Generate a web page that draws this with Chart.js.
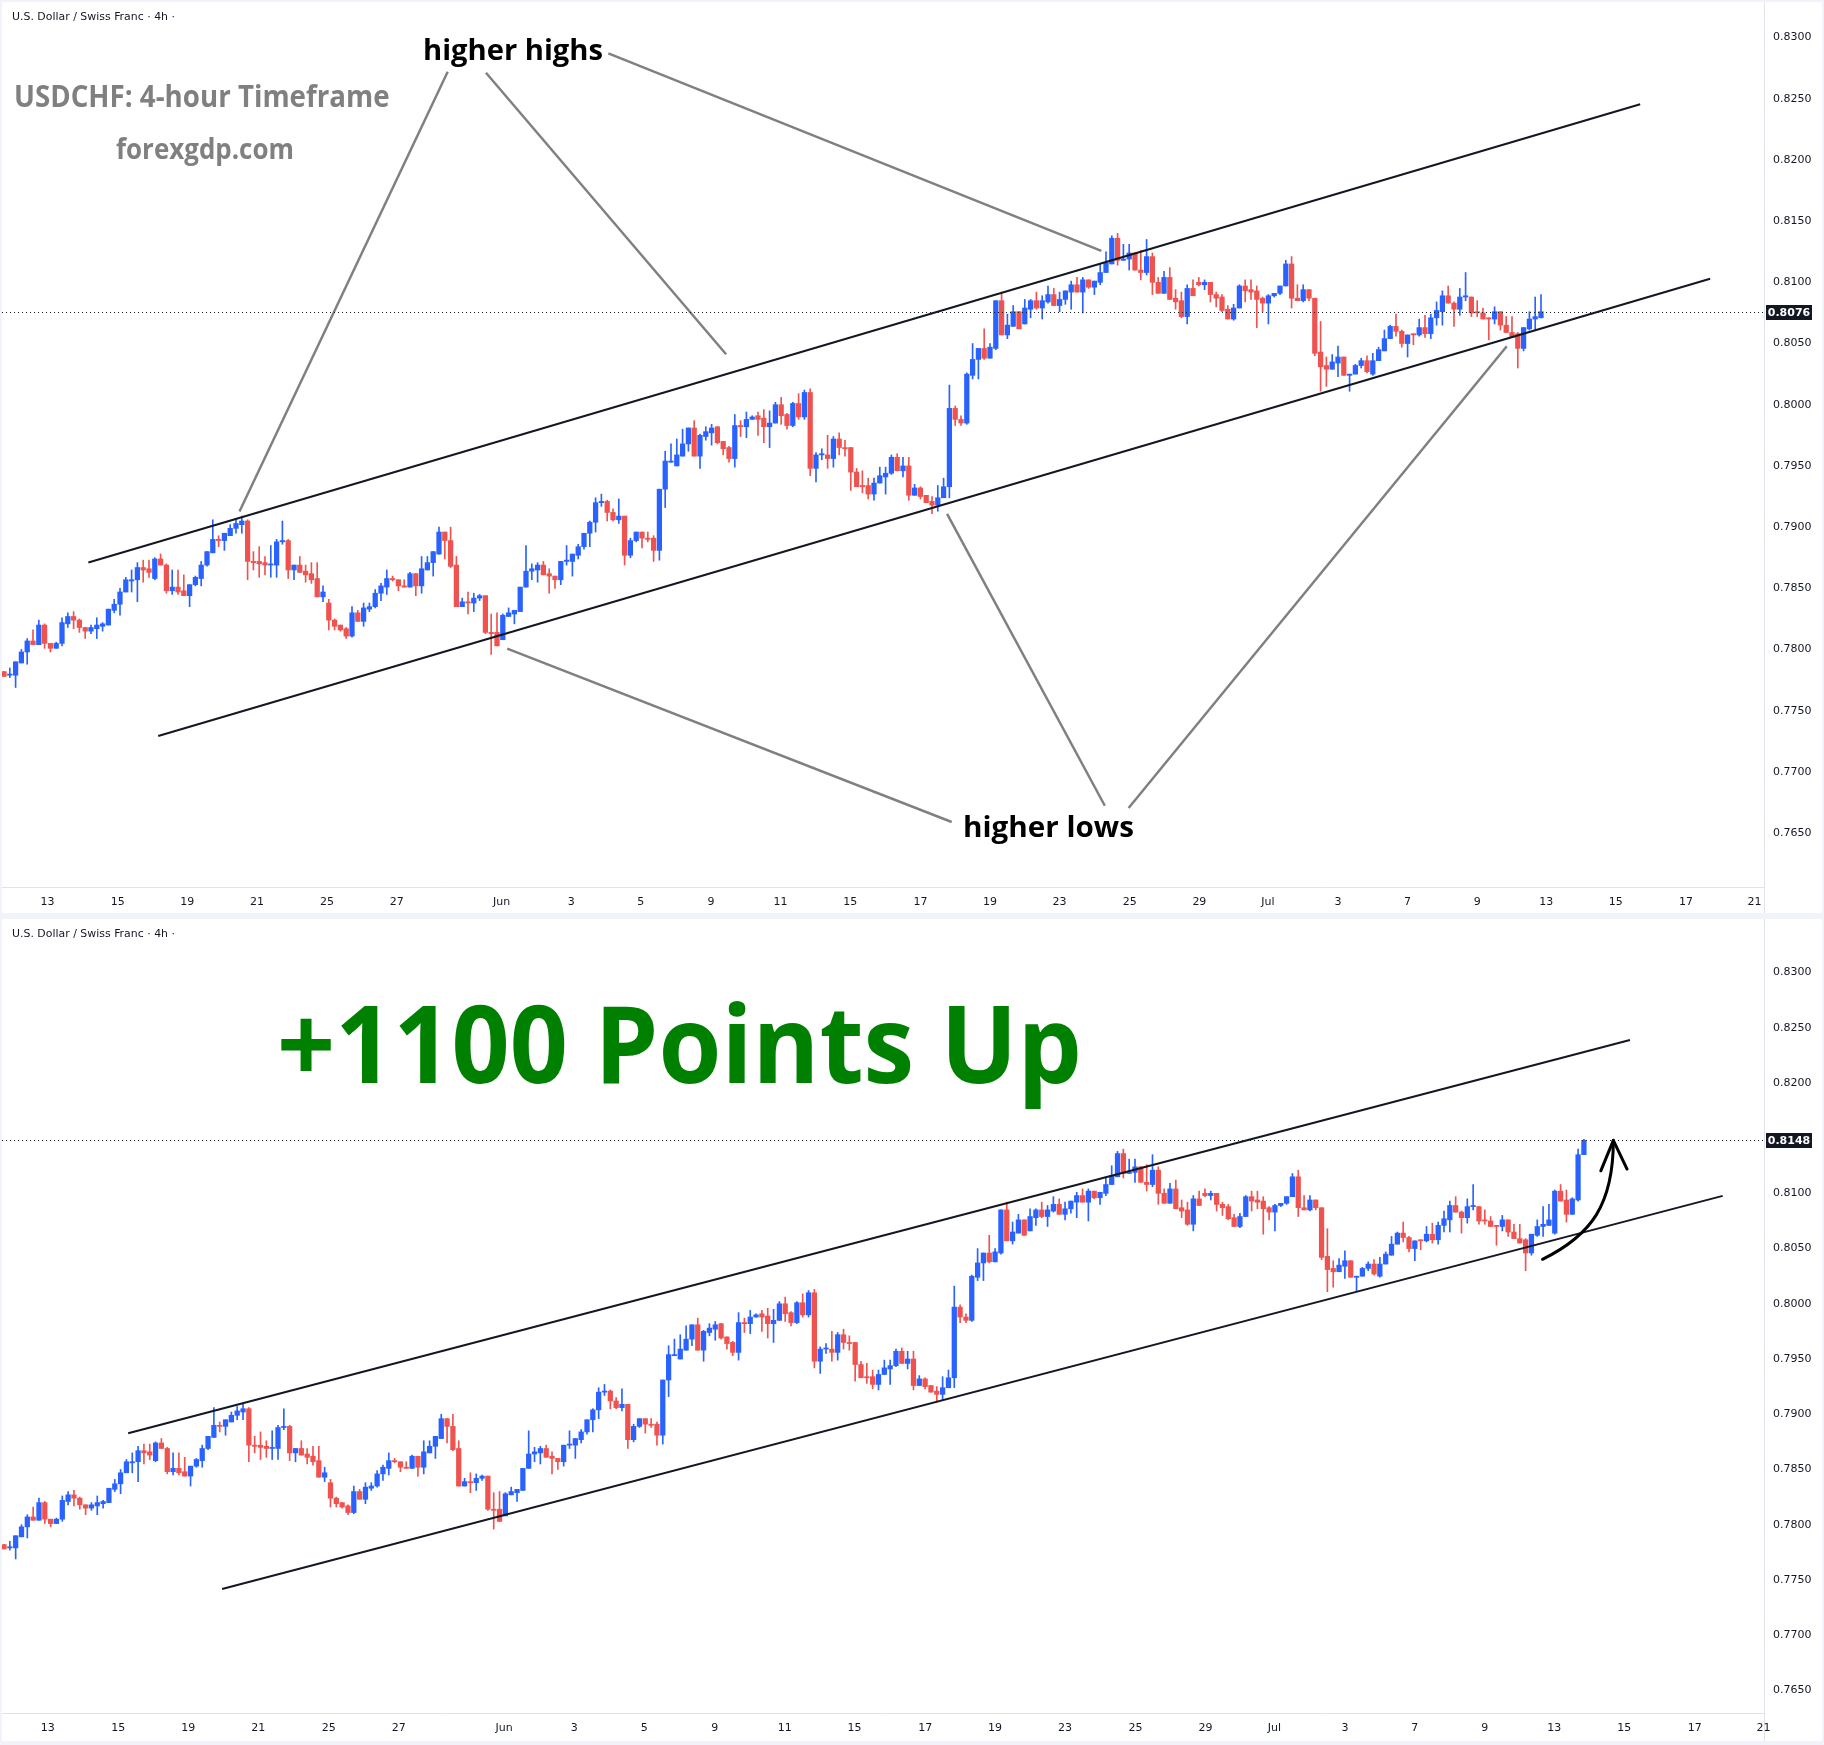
<!DOCTYPE html>
<html><head><meta charset="utf-8">
<script src="https://cdn.jsdelivr.net/npm/chart.js@4.4.1/dist/chart.umd.min.js"></script>
<style>
html,body{margin:0;padding:0;background:#f0f3fa;}
body{width:1824px;height:1745px;position:relative;overflow:hidden;}
.panel{position:absolute;background:#fff;}
#p1{left:2px;top:2px;width:1820px;height:911px;}
#p2{left:2px;top:919px;width:1820px;height:822px;}
.txt{position:absolute;white-space:nowrap;line-height:1;transform-origin:0 0;z-index:5;}
.hdr{font-family:'DejaVu Sans';font-size:11px;color:#131722;}
.ann{font-family:'Open Sans';font-weight:700;}
</style></head>
<body>
<div class="panel" id="p1"><canvas id="c1"></canvas></div>
<div class="panel" id="p2"><canvas id="c2"></canvas></div>

<div class="txt hdr" data-w="163" style="left:11.6px;top:11px;">U.S. Dollar / Swiss Franc · 4h ·</div>
<div class="txt hdr" data-w="163" style="left:11.6px;top:928px;">U.S. Dollar / Swiss Franc · 4h ·</div>
<div class="txt ann" data-w="375.6" style="left:14.3px;top:81.3px;font-size:30.4px;color:#808080;">USDCHF: 4-hour Timeframe</div>
<div class="txt ann" data-w="178" style="left:116px;top:134px;font-size:28.5px;color:#808080;">forexgdp.com</div>
<div class="txt ann" data-w="180" style="left:422.5px;top:34.7px;font-size:28.5px;color:#000;">higher highs</div>
<div class="txt ann" data-w="171" style="left:963px;top:811.5px;font-size:28.5px;color:#000;">higher lows</div>
<div class="txt ann" data-w="805" style="left:277px;top:987.7px;font-size:107px;color:#008000;">+1100 Points Up</div>

<script>
// ---------------- DATA ----------------
const opens = [
.7782,.7779,.7779,.7789,.7798,.7807,.7804,.7820,.7805,.7801,
.7805,.7821,.7827,.7824,.7818,.7815,.7817,.7819,.7820,.7832,
.7837,.7847,.7856,.7857,.7867,.7866,.7858,.7874,.7869,.7848,
.7851,.7848,.7844,.7853,.7858,.7869,.7879,.7890,.7889,.7893,
.7899,.7902,.7905,.7872,.7872,.7871,.7869,.7869,.7888,.7889,
.7865,.7869,.7864,.7862,.7858,.7843,.7838,.7824,.7820,.7817,
.7811,.7830,.7823,.7833,.7835,.7846,.7851,.7858,.7857,.7852,
.7851,.7862,.7852,.7865,.7871,.7878,.7896,.7889,.7869,.7835,
.7839,.7838,.7842,.7844,.7814,.7814,.7808,.7827,.7829,.7831,
.7851,.7864,.7865,.7869,.7862,.7860,.7857,.7872,.7872,.7877,
.7884,.7895,.7904,.7920,.7921,.7912,.7906,.7909,.7877,.7889,
.7896,.7891,.7891,.7881,.7931,.7953,.7950,.7958,.7968,.7981,
.7958,.7974,.7977,.7982,.7970,.7965,.7956,.7983,.7982,.7988,
.7991,.7989,.7982,.7985,.8000,.7992,.7983,.8001,.7990,.8010,
.7948,.7959,.7959,.7956,.7972,.7965,.7965,.7945,.7934,.7934,
.7927,.7936,.7941,.7944,.7957,.7946,.7950,.7926,.7932,.7926,
.7921,.7918,.7924,.7933,.7997,.7988,.7985,.8024,.8037,.8046,
.8038,.8046,.8085,.8057,.8064,.8076,.8066,.8078,.8085,.8079,
.8084,.8090,.8081,.8086,.8092,.8098,.8092,.8102,.8096,.8100,
.8108,.8115,.8136,.8118,.8119,.8124,.8110,.8108,.8121,.8100,
.8091,.8104,.8087,.8085,.8072,.8095,.8100,.8098,.8100,.8090,
.8088,.8078,.8070,.8079,.8097,.8094,.8093,.8087,.8083,.8089,
.8091,.8097,.8115,.8087,.8085,.8094,.8087,.8043,.8032,.8029,
.8034,.8039,.8024,.8025,.8032,.8036,.8025,.8036,.8044,.8054,
.8064,.8060,.8050,.8058,.8057,.8063,.8058,.8071,.8076,.8089,
.8083,.8078,.8088,.8088,.8076,.8075,.8071,.8070,.8076,.8065,
.8059,.8058,.8046,.8062,.8070,.8071,.8064,.8102,.8094,.8081,
.8094,.8135];
const highs = [
.7782,.7785,.7790,.7800,.7809,.7816,.7824,.7821,.7805,.7806,
.7826,.7830,.7831,.7825,.7818,.7820,.7826,.7822,.7833,.7841,
.7850,.7859,.7865,.7871,.7873,.7873,.7875,.7878,.7870,.7865,
.7865,.7861,.7853,.7860,.7872,.7880,.7906,.7893,.7895,.7902,
.7907,.7909,.7906,.7880,.7884,.7876,.7885,.7890,.7905,.7890,
.7869,.7876,.7869,.7871,.7871,.7852,.7841,.7825,.7820,.7818,
.7835,.7832,.7838,.7838,.7849,.7854,.7865,.7860,.7857,.7857,
.7863,.7862,.7876,.7876,.7880,.7900,.7896,.7900,.7876,.7842,
.7847,.7846,.7845,.7844,.7829,.7830,.7829,.7834,.7832,.7851,
.7885,.7870,.7871,.7872,.7866,.7860,.7872,.7885,.7878,.7886,
.7895,.7905,.7924,.7927,.7922,.7915,.7923,.7909,.7891,.7896,
.7896,.7896,.7893,.7931,.7962,.7968,.7972,.7980,.7981,.7987,
.7976,.7982,.7984,.7982,.7970,.7966,.7992,.7987,.7994,.7991,
.7994,.7996,.7995,.8002,.8006,.7993,.8002,.8009,.8012,.8013,
.7961,.7964,.7975,.7974,.7977,.7971,.7965,.7948,.7946,.7940,
.7940,.7949,.7949,.7959,.7960,.7957,.7957,.7935,.7933,.7926,
.7925,.7934,.7940,.8016,.7999,.7991,.8026,.8050,.8046,.8062,
.8050,.8085,.8092,.8074,.8081,.8076,.8086,.8086,.8092,.8089,
.8097,.8095,.8092,.8093,.8101,.8104,.8104,.8102,.8101,.8115,
.8125,.8138,.8140,.8131,.8131,.8124,.8126,.8135,.8124,.8104,
.8109,.8112,.8094,.8092,.8098,.8102,.8104,.8102,.8100,.8092,
.8090,.8081,.8082,.8098,.8102,.8102,.8097,.8088,.8090,.8091,
.8097,.8118,.8121,.8098,.8098,.8094,.8087,.8068,.8039,.8041,
.8048,.8039,.8025,.8033,.8038,.8040,.8042,.8047,.8061,.8065,
.8074,.8061,.8057,.8058,.8070,.8073,.8074,.8084,.8093,.8097,
.8084,.8095,.8108,.8088,.8085,.8079,.8071,.8080,.8076,.8072,
.8072,.8059,.8063,.8076,.8088,.8090,.8103,.8108,.8103,.8096,
.8140,.8149];
const lows = [
.7778,.7777,.7769,.7789,.7788,.7804,.7804,.7801,.7798,.7801,
.7803,.7818,.7817,.7814,.7809,.7813,.7809,.7815,.7820,.7830,
.7828,.7847,.7847,.7839,.7855,.7859,.7857,.7869,.7846,.7845,
.7845,.7844,.7835,.7852,.7852,.7868,.7879,.7884,.7881,.7893,
.7895,.7895,.7857,.7865,.7859,.7861,.7859,.7859,.7886,.7858,
.7857,.7863,.7855,.7854,.7843,.7839,.7816,.7816,.7815,.7809,
.7810,.7823,.7819,.7831,.7834,.7840,.7845,.7856,.7848,.7851,
.7851,.7844,.7846,.7865,.7860,.7878,.7874,.7867,.7835,.7835,
.7829,.7831,.7840,.7813,.7796,.7803,.7808,.7827,.7821,.7831,
.7851,.7857,.7855,.7861,.7846,.7850,.7853,.7869,.7860,.7874,
.7882,.7884,.7896,.7917,.7905,.7905,.7903,.7869,.7875,.7888,
.7883,.7888,.7872,.7873,.7916,.7953,.7950,.7958,.7962,.7958,
.7948,.7971,.7967,.7968,.7959,.7953,.7949,.7974,.7973,.7988,
.7975,.7969,.7965,.7985,.7984,.7980,.7982,.7988,.7988,.7942,
.7937,.7955,.7948,.7949,.7959,.7958,.7930,.7933,.7928,.7923,
.7922,.7936,.7927,.7943,.7946,.7941,.7922,.7926,.7923,.7920,
.7911,.7913,.7924,.7924,.7983,.7983,.7984,.8021,.8021,.8037,
.8038,.8045,.8057,.8054,.8064,.8062,.8066,.8071,.8078,.8070,
.8083,.8081,.8076,.8082,.8078,.8092,.8075,.8095,.8090,.8098,
.8108,.8115,.8114,.8118,.8110,.8110,.8102,.8106,.8090,.8091,
.8091,.8086,.8078,.8071,.8066,.8089,.8097,.8094,.8084,.8080,
.8076,.8070,.8069,.8079,.8084,.8086,.8063,.8076,.8066,.8088,
.8090,.8097,.8079,.8085,.8084,.8085,.8040,.8011,.8015,.8029,
.8023,.8024,.8011,.8025,.8030,.8026,.8024,.8036,.8044,.8054,
.8056,.8047,.8039,.8049,.8056,.8055,.8054,.8065,.8065,.8083,
.8064,.8073,.8085,.8072,.8072,.8070,.8053,.8066,.8061,.8059,
.8055,.8030,.8044,.8061,.8061,.8071,.8063,.8093,.8074,.8081,
.8093,.8135];
const closes = [
.7778,.7780,.7790,.7798,.7807,.7804,.7820,.7805,.7801,.7805,
.7822,.7827,.7824,.7818,.7815,.7818,.7820,.7821,.7833,.7837,
.7847,.7857,.7857,.7867,.7865,.7863,.7874,.7869,.7848,.7851,
.7847,.7844,.7853,.7859,.7869,.7880,.7890,.7889,.7895,.7899,
.7903,.7905,.7872,.7871,.7870,.7869,.7870,.7888,.7889,.7865,
.7869,.7863,.7861,.7857,.7843,.7847,.7824,.7819,.7816,.7811,
.7830,.7823,.7834,.7835,.7846,.7852,.7858,.7857,.7852,.7851,
.7862,.7852,.7866,.7871,.7880,.7896,.7889,.7868,.7835,.7839,
.7838,.7842,.7844,.7814,.7813,.7803,.7828,.7830,.7832,.7851,
.7864,.7866,.7869,.7861,.7860,.7857,.7872,.7873,.7878,.7884,
.7895,.7904,.7920,.7921,.7912,.7906,.7909,.7877,.7889,.7896,
.7891,.7890,.7881,.7931,.7954,.7954,.7959,.7968,.7981,.7958,
.7975,.7978,.7981,.7969,.7964,.7956,.7983,.7982,.7988,.7990,
.7988,.7982,.7985,.8000,.7991,.7983,.8001,.7990,.8010,.7948,
.7959,.7960,.7956,.7972,.7965,.7964,.7945,.7933,.7933,.7927,
.7936,.7942,.7944,.7957,.7946,.7950,.7926,.7932,.7925,.7920,
.7918,.7924,.7933,.7997,.7988,.7985,.8025,.8037,.8046,.8038,
.8047,.8085,.8057,.8065,.8076,.8062,.8079,.8085,.8079,.8085,
.8090,.8081,.8086,.8093,.8098,.8092,.8102,.8096,.8101,.8108,
.8116,.8136,.8118,.8119,.8124,.8110,.8108,.8121,.8100,.8091,
.8104,.8086,.8084,.8072,.8095,.8089,.8098,.8100,.8090,.8087,
.8077,.8070,.8079,.8097,.8093,.8092,.8086,.8083,.8089,.8091,
.8097,.8115,.8087,.8085,.8094,.8087,.8042,.8031,.8029,.8035,
.8039,.8024,.8025,.8032,.8036,.8027,.8036,.8045,.8054,.8064,
.8060,.8050,.8057,.8057,.8063,.8058,.8071,.8077,.8089,.8083,
.8078,.8088,.8089,.8075,.8075,.8070,.8070,.8076,.8065,.8059,
.8055,.8046,.8063,.8070,.8072,.8076,.8102,.8093,.8081,.8095,
.8135,.8148];
const topCandleCount = 266;             // upper panel ends earlier
const xTickPositions = [7.5,19.6,31.6,43.6,55.7,67.7,85.8,97.8,109.8,121.9,133.9,145.9,158.0,170.0,182.0,194.1,206.1,217.9,230.0,242.0,254.0,265.9,277.9,290.0,301.8];
const xTickLabels = ['13','15','19','21','25','27','Jun','3','5','9','11','15','17','19','23','25','29','Jul','3','7','9','13','15','17','21'];
const priceTicks = [0.7650,0.7700,0.7750,0.7800,0.7850,0.7900,0.7950,0.8000,0.8050,0.8100,0.8150,0.8200,0.8250,0.8300];
// trend channel lines [index, price]
const topChannelUpper = [[14.55,0.78711],[282.1,0.82455]];
const topChannelLower = [[26.59,0.77294],[294.16,0.81029]];
const bottomChannelUpper = [[21.3,0.78828],[278.9,0.82389]];
const bottomChannelLower = [[37.4,0.77417],[294.8,0.80977]];
// annotation pointer lines [index, price]
const higherHighPointers = [
  [[76.5,0.82720],[40.6,0.79128]],
  [[83.1,0.82712],[124.5,0.80412]],
  [[104.2,0.82870],[189.2,0.81257]]];
const higherLowPointers = [
  [[86.76,0.78007],[163.4,0.76591]],
  [[162.6,0.79109],[189.8,0.76724]],
  [[259.1,0.80478],[193.9,0.76705]]];
const arrowCurve = {start:[263.9,0.80403], c1:[272.3,0.80622], c2:[276.05,0.80898], tip:[276.05,0.81480], headL:[273.9,0.81204], headR:[278.4,0.81220]};

// ---------------- DRAWING ----------------
const UP = '#2962ff', DOWN = '#ef5350';
Chart.defaults.font.family = "'DejaVu Sans'";

const priceLinePlugin = {
  id: 'priceLine',
  afterDatasetsDraw(chart, args, o) {
    if (o.value == null) return;
    const {ctx, chartArea, scales: {y}} = chart;
    const py = Math.round(y.getPixelForValue(o.value)) + 0.5;
    ctx.save();
    ctx.strokeStyle = '#131722'; ctx.lineWidth = 1; ctx.setLineDash([1, 3]);
    ctx.beginPath(); ctx.moveTo(chartArea.left, py); ctx.lineTo(chartArea.right, py); ctx.stroke();
    ctx.setLineDash([]);
    ctx.fillStyle = '#131722';
    ctx.fillRect(chartArea.right + 2, py - 7.5, 46, 15);
    ctx.fillStyle = '#ffffff'; ctx.font = "bold 11px 'DejaVu Sans'";
    ctx.textAlign = 'center'; ctx.textBaseline = 'middle';
    ctx.fillText(o.value.toFixed(4), chartArea.right + 25, py + 0.5);
    ctx.restore();
  }
};
const curveArrowPlugin = {
  id: 'curveArrow',
  afterDatasetsDraw(chart, args, o) {
    if (!o.path) return;
    const {ctx, scales: {x, y}} = chart;
    const P = p => [x.getPixelForValue(p[0]), y.getPixelForValue(p[1])];
    const s = P(o.path.start), a = P(o.path.c1), b = P(o.path.c2), t = P(o.path.tip), l = P(o.path.headL), r = P(o.path.headR);
    ctx.save();
    ctx.strokeStyle = '#000'; ctx.lineWidth = 3; ctx.lineCap = 'round'; ctx.lineJoin = 'round';
    ctx.beginPath(); ctx.moveTo(s[0], s[1]); ctx.bezierCurveTo(a[0], a[1], b[0], b[1], t[0], t[1]); ctx.stroke();
    ctx.beginPath(); ctx.moveTo(l[0], l[1]); ctx.lineTo(t[0], t[1]); ctx.lineTo(r[0], r[1]); ctx.stroke();
    ctx.restore();
  }
};
const axisSepPlugin = {
  id: 'axisSep',
  beforeDraw(chart) {
    const {ctx, chartArea} = chart;
    ctx.save(); ctx.strokeStyle = '#e0e3eb'; ctx.lineWidth = 1;
    const xr = Math.round(chartArea.right) + 0.5;
    ctx.beginPath(); ctx.moveTo(xr, 0); ctx.lineTo(xr, chart.height); ctx.stroke();
    ctx.restore();
  }
};

function lineSet(pts, color, width) {
  return {type: 'line', data: pts.map(p => ({x: p[0], y: p[1]})), borderColor: color, borderWidth: width,
          pointRadius: 0, fill: false, order: 0, tension: 0};
}

function makeChart(id, count, cfg) {
  const idx = Array.from({length: count}, (_, i) => i);
  const colors = idx.map(i => closes[i] >= opens[i] ? UP : DOWN);
  const wickData = idx.map(i => ({x: i, y: [lows[i], highs[i]]}));
  const bodyData = idx.map(i => ({x: i, y: [opens[i], closes[i]]}));
  const tickFont = {family: 'DejaVu Sans', size: 11};
  return new Chart(document.getElementById(id), {
    type: 'bar',
    data: {datasets: [
      {data: wickData, backgroundColor: colors, barThickness: 1, grouped: false, order: 2},
      {data: bodyData, backgroundColor: colors, barThickness: 4.6, minBarLength: 1, grouped: false, order: 1},
      ...cfg.lines
    ]},
    plugins: [axisSepPlugin, priceLinePlugin, curveArrowPlugin],
    options: {
      responsive: true, maintainAspectRatio: false, animation: false, events: [],
      layout: {padding: 0},
      plugins: {legend: {display: false}, tooltip: {enabled: false},
                priceLine: {value: closes[count - 1]}, curveArrow: {path: cfg.arrow || null}},
      scales: {
        x: {type: 'linear', position: 'bottom', min: cfg.xMin, max: cfg.xMax, offset: false,
            grid: {display: true, color: 'rgba(0,0,0,0)', drawTicks: false},
            border: {display: true, color: '#e0e3eb', width: 1},
            afterBuildTicks: s => { s.ticks = xTickPositions.map(v => ({value: v})); },
            afterFit: s => { s.height = cfg.xAxisH; s.paddingLeft = 0; s.paddingRight = 0; },
            ticks: {autoSkip: false, maxRotation: 0, padding: 8.5, color: '#131722', font: tickFont,
                    callback: (v, i) => xTickLabels[i]}},
        y: {type: 'linear', position: 'right', min: cfg.yMin, max: cfg.yMax,
            grid: {display: true, color: 'rgba(0,0,0,0)', drawTicks: false},
            border: {display: true, color: '#e0e3eb', width: 1},
            afterBuildTicks: s => { s.ticks = priceTicks.map(v => ({value: v})); },
            afterFit: s => { s.width = 58; s.paddingTop = 0; s.paddingBottom = 0; },
            ticks: {padding: 9, color: '#131722', font: tickFont, callback: v => v.toFixed(4)}}
      }
    }
  });
}

const GRAY = '#808080', BLACK = '#131722';
makeChart('c1', topCandleCount, {
  xMin: -0.345, xMax: 303.45, yMin: 0.76060, yMax: 0.83290, xAxisH: 26,
  lines: [lineSet(topChannelUpper, BLACK, 2), lineSet(topChannelLower, BLACK, 2),
          ...higherHighPointers.map(p => lineSet(p, GRAY, 2.5)),
          ...higherLowPointers.map(p => lineSet(p, GRAY, 2.5))]
});
makeChart('c2', opens.length, {
  xMin: -0.343, xMax: 301.89, yMin: 0.76295, yMax: 0.83484, xAxisH: 28,
  lines: [lineSet(bottomChannelUpper, BLACK, 2), lineSet(bottomChannelLower, BLACK, 2)],
  arrow: arrowCurve
});

function fitTexts() {
  document.querySelectorAll('.txt').forEach(el => {
    el.style.transform = 'none';
    const w = el.getBoundingClientRect().width;
    const target = parseFloat(el.dataset.w);
    if (w > 0) el.style.transform = 'scaleX(' + (target / w) + ')';
  });
}
fitTexts();
if (document.fonts && document.fonts.ready) document.fonts.ready.then(fitTexts);
</script>
</body></html>
